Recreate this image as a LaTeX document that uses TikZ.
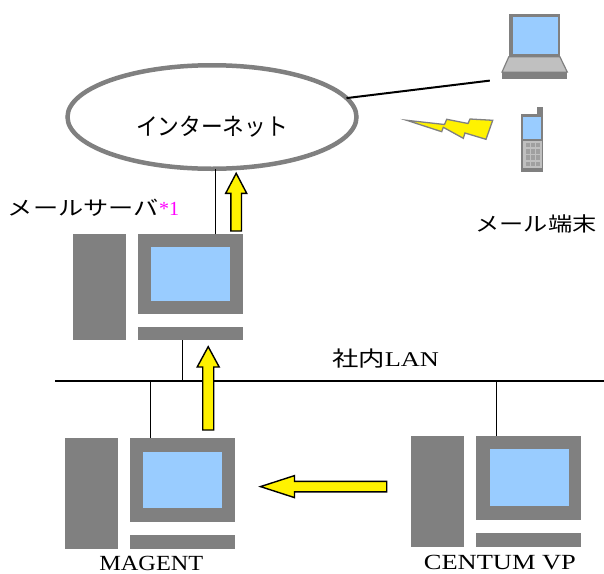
\documentclass[tikz,border=0pt]{standalone}
\usepackage{fontspec}
\setmainfont{Liberation Serif}
\newfontfamily\jpfont{Noto Sans CJK JP}
\usetikzlibrary{shapes.geometric}
\definecolor{devgray}{HTML}{808080}
\definecolor{scrblue}{HTML}{99CCFF}
\definecolor{lightgr}{HTML}{C0C0C0}
\definecolor{keygr}{HTML}{A0A0A0}
\definecolor{magent}{HTML}{FF00FF}
\begin{document}
\begin{tikzpicture}[x=1pt,y=-1pt,
  devbox/.style={fill=devgray,draw=none,inner sep=0pt,outer sep=0pt,anchor=north west},
  scrbox/.style={fill=scrblue,draw=none,inner sep=0pt,outer sep=0pt,anchor=north west},
  lgbox/.style={fill=lightgr,draw=none,inner sep=0pt,outer sep=0pt,anchor=north west},
  keybox/.style={fill=keygr,draw=none,inner sep=0pt,outer sep=0pt,anchor=north west,minimum width=3.8pt,minimum height=4.4pt},
  conn/.style={draw=black,line width=1.5pt},
  lanline/.style={draw=black,line width=2pt},
  yarrow/.style={fill=yellow,draw=black,line width=1.4pt,line join=miter},
  bolt/.style={fill=yellow,draw=devgray,line width=1.3pt,line join=miter},
  txt/.style={inner sep=0pt,outer sep=0pt}
]
\useasboundingbox (0,0) rectangle (604,573);

% Internet cloud
\node[ellipse,draw=devgray,line width=4.5pt,minimum width=289pt,minimum height=103.5pt,inner sep=0pt,outer sep=0pt] (inet) at (212,117) {};
\node[txt] (inettxt) at (212,126.5) {\fontsize{24}{24}\jpfont\resizebox{152pt}{\height}{インターネット}};

% Laptop
\node[devbox,minimum width=51.1pt,minimum height=42.5pt] (lapscr) at (508.8,14.3) {};
\node[scrbox,minimum width=44.5pt,minimum height=36.7pt] (lapview) at (513.2,17) {};
\draw[fill=lightgr,draw=devgray,line width=1.2pt] (lapscr.south west) -- (lapscr.south east) -- (567.3,72.1) -- (502,72.1) -- cycle;
\node[devbox,minimum width=65.3pt,minimum height=7.2pt] (lapbase) at (502,72.1) {};
\coordinate (lapend) at (489.8,80.6);
\draw[conn,line width=2pt] (inet.8) -- (lapend);

% Lightning
\draw[bolt] (406.7,120.3) -- (441.7,131.7) -- (443.3,127.3) -- (463.3,138.3) -- (465,133) -- (486,139.3)
  -- (492.7,120.3) -- (470,119) -- (468,123.5) -- (446.7,119.3) -- (444.5,124.5) -- cycle;

% Mobile phone
\node[devbox,minimum width=5.7pt,minimum height=7.3pt] (phant) at (537,106.7) {};
\node[devbox,minimum width=22.3pt,minimum height=58.3pt] (phone) at (521,114) {};
\node[scrbox,minimum width=17.7pt,minimum height=22.3pt] (phscr) at (523.3,116.7) {};
\node[lgbox,minimum width=19pt,minimum height=27pt] (phpad) at (522.7,141.3) {};
\foreach \kx in {525.8,530.9,536} {
  \foreach \ky in {143,149.2,155.4,161.6} {
    \node[keybox] at (\kx,\ky) {};
  }
}

% Labels
\node[txt,anchor=west] (srvlbl) at (8,207.5) {\fontsize{20}{20}\jpfont\resizebox{151pt}{\height}{メールサーバ}\fontsize{20}{20}\rmfamily\color{magent}\resizebox{20pt}{\height}{*1}};
\node[txt] (termlbl) at (536,224) {\fontsize{20}{20}\jpfont\resizebox{121pt}{\height}{メール端末}};

% Mail server
\node[devbox,minimum width=53.3pt,minimum height=106pt] (stower) at (72.7,234) {};
\node[devbox,minimum width=105pt,minimum height=79.7pt] (smon) at (138,234) {};
\node[scrbox,minimum width=79pt,minimum height=54.3pt] (sscr) at (151,246.7) {};
\node[devbox,minimum width=105pt,minimum height=13.6pt] (skey) at (138,326.7) {};
\draw[conn] ([xshift=24.8pt]smon.north) -- ([xshift=24.8pt]smon.north |- inet.south);
\draw[yarrow] (230.9,231) -- (230.9,193.3) -- (225.7,193.3) -- (236.2,173.3) -- (246.7,193.3) -- (241.5,193.3) -- (241.5,231) -- cycle;

% LAN
\coordinate (lanL) at (55,381);
\coordinate (lanR) at (604,381);
\draw[lanline] (lanL) -- (lanR);
\node[txt] (lanlbl) at (385.5,359) {\fontsize{21}{21}\selectfont\resizebox{107pt}{\height}{\jpfont 社内\rmfamily LAN}};
\draw[conn] ([xshift=-7.8pt]skey.south) -- ([xshift=-7.8pt]skey.south |- lanL);

% MAGENT
\node[devbox,minimum width=52.7pt,minimum height=111.1pt] (mtower) at (65,437.9) {};
\node[devbox,minimum width=104.8pt,minimum height=83.8pt] (mmon) at (130,437.9) {};
\node[scrbox,minimum width=78.9pt,minimum height=56.8pt] (mscr) at (143,451.6) {};
\node[devbox,minimum width=104.8pt,minimum height=14.3pt] (mkey) at (130,534.7) {};
\draw[conn] ([xshift=-31.7pt]mmon.north) -- ([xshift=-31.7pt]mmon.north |- lanL);
\draw[yarrow] (202.7,430) -- (202.7,367) -- (197.2,367) -- (208.2,346.7) -- (219.2,367) -- (213.7,367) -- (213.7,430) -- cycle;
\node[txt] (mlbl) at (151.3,563) {\fontsize{21.6}{21.6}\selectfont\resizebox{104pt}{\height}{MAGENT}};

% CENTUM VP
\node[devbox,minimum width=52.2pt,minimum height=111.2pt] (ctower) at (411.3,435.8) {};
\node[devbox,minimum width=104.5pt,minimum height=83.8pt] (cmon) at (476.2,435.8) {};
\node[scrbox,minimum width=79.2pt,minimum height=56.5pt] (cscr) at (489.8,449.4) {};
\node[devbox,minimum width=104.5pt,minimum height=13.7pt] (ckey) at (476.2,533.3) {};
\draw[conn] ([xshift=-31.95pt]cmon.north) -- ([xshift=-31.95pt]cmon.north |- lanL);
\draw[yarrow] (386.7,481.4) -- (294.5,481.4) -- (294.5,475.6) -- (260.5,486.6) -- (294.5,497.6) -- (294.5,491.9) -- (386.7,491.9) -- cycle;
\node[txt] (clbl) at (499.9,563) {\fontsize{21.6}{21.6}\selectfont\resizebox{152pt}{\height}{CENTUM VP}};
\end{tikzpicture}
\end{document}
